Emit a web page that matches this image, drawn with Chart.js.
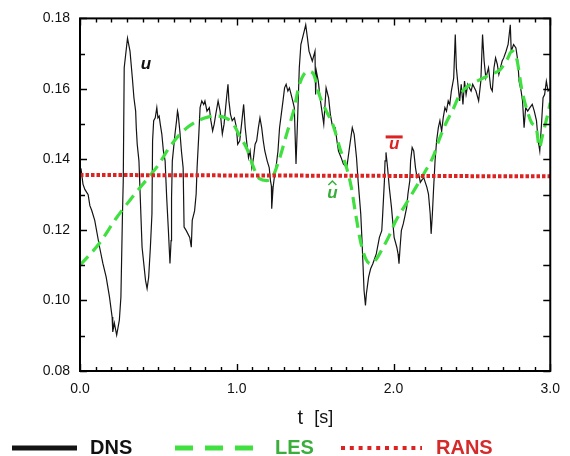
<!DOCTYPE html>
<html>
<head>
<meta charset="utf-8">
<script src="https://cdn.jsdelivr.net/npm/chart.js@4.4.0/dist/chart.umd.min.js"></script>
<style>
  html, body { margin: 0; padding: 0; background: #fff; }
  #wrap { width: 570px; height: 456px; position: relative; }
</style>
</head>
<body>
<div id="wrap"><canvas id="c" width="570" height="456"></canvas></div>
<script>
// ---- data ----
const dnsT = [
  0, 0.006, 0.019, 0.031, 0.052, 0.063, 0.075, 0.094, 0.125, 0.146,
  0.167, 0.188, 0.205, 0.209, 0.219, 0.234, 0.251, 0.261, 0.271, 0.276,
  0.282, 0.303, 0.319, 0.334, 0.344, 0.355, 0.359, 0.365, 0.376, 0.396,
  0.418, 0.428, 0.438, 0.449, 0.459, 0.463, 0.470, 0.480, 0.490, 0.497,
  0.505, 0.512, 0.522, 0.532, 0.543, 0.553, 0.564, 0.574, 0.581, 0.584,
  0.589, 0.606, 0.616, 0.622, 0.626, 0.637, 0.647, 0.658, 0.664, 0.678,
  0.700, 0.710, 0.716, 0.731, 0.741, 0.747, 0.758, 0.766, 0.777, 0.789,
  0.797, 0.810, 0.825, 0.835, 0.846, 0.856, 0.866, 0.881, 0.894, 0.908,
  0.919, 0.935, 0.944, 0.950, 0.960, 0.971, 0.985, 0.998, 1.006, 1.019,
  1.033, 1.044, 1.054, 1.065, 1.075, 1.085, 1.096, 1.107, 1.117, 1.127,
  1.138, 1.148, 1.159, 1.169, 1.179, 1.194, 1.207, 1.215, 1.221, 1.223,
  1.232, 1.242, 1.253, 1.263, 1.273, 1.284, 1.295, 1.305, 1.315, 1.326,
  1.336, 1.347, 1.357, 1.367, 1.378, 1.387, 1.399, 1.409, 1.430, 1.440,
  1.451, 1.461, 1.482, 1.499, 1.503, 1.508, 1.520, 1.534, 1.555, 1.570,
  1.586, 1.597, 1.608, 1.628, 1.639, 1.649, 1.666, 1.680, 1.702, 1.722,
  1.737, 1.749, 1.764, 1.774, 1.791, 1.799, 1.806, 1.812, 1.821, 1.827,
  1.841, 1.854, 1.868, 1.890, 1.910, 1.925, 1.931, 1.942, 1.946, 1.952,
  1.962, 1.973, 1.987, 2.004, 2.021, 2.029, 2.035, 2.042, 2.050, 2.062,
  2.071, 2.084, 2.092, 2.104, 2.109, 2.119, 2.129, 2.140, 2.150, 2.161,
  2.171, 2.192, 2.213, 2.223, 2.234, 2.240, 2.248, 2.255, 2.265, 2.275,
  2.286, 2.296, 2.307, 2.317, 2.328, 2.338, 2.349, 2.359, 2.369, 2.384,
  2.394, 2.401, 2.411, 2.422, 2.432, 2.443, 2.453, 2.463, 2.474, 2.484,
  2.495, 2.505, 2.526, 2.543, 2.557, 2.568, 2.578, 2.589, 2.606, 2.620,
  2.630, 2.641, 2.651, 2.662, 2.672, 2.682, 2.693, 2.703, 2.718, 2.731,
  2.745, 2.751, 2.766, 2.781, 2.793, 2.801, 2.814, 2.823, 2.833, 2.843,
  2.856, 2.870, 2.885, 2.898, 2.912, 2.923, 2.933, 2.944, 2.954, 2.964,
  2.975, 2.986, 3.000
];
const dnsU = [
  0.1362, 0.1375, 0.1330, 0.1315, 0.1300, 0.1269, 0.1255, 0.1227, 0.1151, 0.1105,
  0.1066, 0.1010, 0.0953, 0.0911, 0.0936, 0.0902, 0.0944, 0.1010, 0.1246, 0.1340,
  0.1660, 0.1744, 0.1707, 0.1631, 0.1575, 0.1537, 0.1490, 0.1443, 0.1396, 0.1151,
  0.1057, 0.1034, 0.1066, 0.1151, 0.1246, 0.1453, 0.1510, 0.1518, 0.1547, 0.1518,
  0.1523, 0.1500, 0.1472, 0.1424, 0.1396, 0.1292, 0.1198, 0.1105, 0.1170, 0.1292,
  0.1396, 0.1472, 0.1510, 0.1537, 0.1529, 0.1480, 0.1424, 0.1376, 0.1208, 0.1198,
  0.1179, 0.1151, 0.1227, 0.1254, 0.1302, 0.1377, 0.1471, 0.1547, 0.1566, 0.1556,
  0.1566, 0.1537, 0.1547, 0.1510, 0.1481, 0.1500, 0.1528, 0.1566, 0.1537, 0.1472,
  0.1500, 0.1575, 0.1613, 0.1566, 0.1528, 0.1510, 0.1518, 0.1490, 0.1443, 0.1453,
  0.1510, 0.1556, 0.1490, 0.1443, 0.1405, 0.1424, 0.1377, 0.1405, 0.1443, 0.1453,
  0.1490, 0.1518, 0.1490, 0.1453, 0.1424, 0.1396, 0.1377, 0.1340, 0.1325, 0.1260,
  0.1321, 0.1358, 0.1387, 0.1424, 0.1490, 0.1528, 0.1566, 0.1603, 0.1613, 0.1594,
  0.1603, 0.1584, 0.1566, 0.1547, 0.1387, 0.1500, 0.1660, 0.1726, 0.1763, 0.1782,
  0.1744, 0.1707, 0.1679, 0.1707, 0.1584, 0.1650, 0.1622, 0.1566, 0.1500, 0.1603,
  0.1575, 0.1528, 0.1500, 0.1490, 0.1453, 0.1424, 0.1405, 0.1387, 0.1377, 0.1443,
  0.1490, 0.1471, 0.1405, 0.1340, 0.1246, 0.1170, 0.1095, 0.1029, 0.0986, 0.1019,
  0.1066, 0.1090, 0.1104, 0.1132, 0.1179, 0.1198, 0.1245, 0.1340, 0.1396, 0.1420,
  0.1377, 0.1321, 0.1264, 0.1179, 0.1151, 0.1132, 0.1104, 0.1151, 0.1198, 0.1217,
  0.1236, 0.1264, 0.1302, 0.1340, 0.1396, 0.1434, 0.1424, 0.1377, 0.1349, 0.1358,
  0.1335, 0.1349, 0.1321, 0.1302, 0.1246, 0.1189, 0.1246, 0.1311, 0.1396, 0.1453,
  0.1490, 0.1510, 0.1480, 0.1518, 0.1547, 0.1537, 0.1566, 0.1556, 0.1594, 0.1631,
  0.1754, 0.1660, 0.1613, 0.1566, 0.1613, 0.1556, 0.1622, 0.1584, 0.1613, 0.1603,
  0.1594, 0.1613, 0.1594, 0.1566, 0.1622, 0.1754, 0.1679, 0.1631, 0.1660, 0.1603,
  0.1594, 0.1660, 0.1688, 0.1670, 0.1641, 0.1660, 0.1679, 0.1688, 0.1707, 0.1726,
  0.1782, 0.1707, 0.1726, 0.1716, 0.1679, 0.1622, 0.1594, 0.1566, 0.1490, 0.1547,
  0.1537, 0.1547, 0.1556, 0.1537, 0.1510, 0.1453, 0.1424, 0.1500, 0.1575, 0.1584,
  0.1622, 0.1594, 0.1600
];
const lesT = [
  0, 0.125, 0.232, 0.332, 0.420, 0.501, 0.564, 0.645, 0.733, 0.814,
  0.877, 0.927, 0.971, 1.021, 1.065, 1.109, 1.146, 1.190, 1.228, 1.271,
  1.321, 1.365, 1.397, 1.428, 1.459, 1.491, 1.522, 1.566, 1.616, 1.660,
  1.697, 1.729, 1.760, 1.791, 1.823, 1.854, 1.885, 1.929, 1.973, 2.010,
  2.073, 2.136, 2.198, 2.255, 2.292, 2.336, 2.380, 2.418, 2.461, 2.511,
  2.555, 2.618, 2.681, 2.724, 2.756, 2.787, 2.818, 2.850, 2.881, 2.912,
  2.931, 2.950, 2.981, 3.000
];
const lesU = [
  0.1100, 0.1163, 0.1234, 0.1292, 0.1340, 0.1385, 0.1430, 0.1475, 0.1505, 0.1520,
  0.1523, 0.1518, 0.1505, 0.1465, 0.1430, 0.1375, 0.1345, 0.1340, 0.1350, 0.1400,
  0.1476, 0.1542, 0.1608, 0.1641, 0.1650, 0.1641, 0.1589, 0.1542, 0.1495, 0.1429,
  0.1382, 0.1325, 0.1241, 0.1165, 0.1118, 0.1104, 0.1114, 0.1147, 0.1184, 0.1222,
  0.1269, 0.1316, 0.1363, 0.1410, 0.1457, 0.1504, 0.1542, 0.1580, 0.1603, 0.1617,
  0.1627, 0.1641, 0.1655, 0.1683, 0.1707, 0.1683, 0.1599, 0.1542, 0.1504, 0.1486,
  0.1434, 0.1467, 0.1523, 0.1561
];
const ransT = [0, 3.0];
const ransU = [0.1356, 0.1352];

const seriesNames = ['DNS', 'LES', 'RANS'];
const xTickLabels = ['0.0', '1.0', '2.0', '3.0'];
const yTickLabels = ['0.08', '0.10', '0.12', '0.14', '0.16', '0.18'];
const axisTitle = ['t', '[s]'];
// annotation labels: text, t, value
const annText = ['u', 'u', 'u'];
const annT = [0.42, 2.004, 1.61];
const annU = [0.167, 0.1444, 0.1305];

// ---- styles ----
const FONT = "'Liberation Sans', Arial, Helvetica, sans-serif";
const C_DNS = '#141414', C_LES = '#3fe03f', C_RANS = '#dd2222';
const C_LES_TXT = '#3aae3a', C_RANS_TXT = '#d42a2a';

const pts = (ts, us) => ts.map((t, i) => ({ x: t, y: us[i] }));

const decor = {
  id: 'decor',
  afterDatasetsDraw(chart) {
    const { ctx, chartArea: a, scales: { x: xs, y: ys } } = chart;
    ctx.save();
    ctx.strokeStyle = '#000';
    ctx.lineWidth = 2;
    ctx.strokeRect(a.left, a.top, a.right - a.left, a.bottom - a.top);
    ctx.lineWidth = 1.4;
    ctx.beginPath();
    for (let i = 0; i <= 30; i++) {
      const px = Math.round(xs.getPixelForValue(i / 10)) + 0.5;
      const len = (i % 10 === 0) ? 7 : 4;
      ctx.moveTo(px, a.bottom); ctx.lineTo(px, a.bottom - len);
      ctx.moveTo(px, a.top); ctx.lineTo(px, a.top + len);
    }
    for (let j = 0; j <= 10; j++) {
      const py = Math.round(ys.getPixelForValue(0.08 + j * 0.01)) + 0.5;
      const len = (j % 2 === 0) ? 7 : 5;
      ctx.moveTo(a.left, py); ctx.lineTo(a.left + len, py);
      ctx.moveTo(a.right, py); ctx.lineTo(a.right - 7, py);
    }
    ctx.stroke();

    // annotations
    ctx.textAlign = 'center';
    ctx.textBaseline = 'middle';
    ctx.font = 'italic bold 17px ' + FONT;
    let px = xs.getPixelForValue(annT[0]), py = ys.getPixelForValue(annU[0]);
    ctx.fillStyle = '#111';
    ctx.fillText(annText[0], px, py);
    px = xs.getPixelForValue(annT[1]); py = ys.getPixelForValue(annU[1]);
    ctx.fillStyle = C_RANS;
    ctx.fillText(annText[1], px, py);
    ctx.fillRect(px - 8.5, py - 8.5, 17, 3);
    px = xs.getPixelForValue(annT[2]); py = ys.getPixelForValue(annU[2]);
    ctx.fillStyle = C_LES_TXT;
    ctx.fillText(annText[2], px, py);
    ctx.strokeStyle = C_LES_TXT;
    ctx.lineWidth = 1.5;
    ctx.beginPath();
    ctx.moveTo(px - 4, py - 8); ctx.lineTo(px, py - 12); ctx.lineTo(px + 4, py - 8);
    ctx.stroke();
    ctx.restore();
  },
  afterDraw(chart) {
    const { ctx, chartArea: a } = chart;
    ctx.save();
    ctx.textBaseline = 'middle';
    ctx.fillStyle = '#111';
    const cx = (a.left + a.right) / 2;
    ctx.font = '20px ' + FONT;
    ctx.textAlign = 'right';
    ctx.fillText(axisTitle[0], cx - 12, 418);
    ctx.font = '18px ' + FONT;
    ctx.textAlign = 'left';
    ctx.fillText(axisTitle[1], cx - 1, 418);

    const ly = 448;
    ctx.lineWidth = 5;
    ctx.strokeStyle = C_DNS;
    ctx.setLineDash([]);
    ctx.beginPath(); ctx.moveTo(12, ly); ctx.lineTo(77, ly); ctx.stroke();
    ctx.strokeStyle = C_LES;
    ctx.setLineDash([18, 12]);
    ctx.beginPath(); ctx.moveTo(175, ly); ctx.lineTo(254, ly); ctx.stroke();
    ctx.strokeStyle = C_RANS;
    ctx.lineWidth = 4;
    ctx.setLineDash([4, 4.8]);
    ctx.beginPath(); ctx.moveTo(341, ly); ctx.lineTo(422, ly); ctx.stroke();
    ctx.setLineDash([]);
    ctx.font = 'bold 20px ' + FONT;
    ctx.textAlign = 'left';
    ctx.fillStyle = '#111'; ctx.fillText(seriesNames[0], 90, ly);
    ctx.fillStyle = C_LES_TXT; ctx.fillText(seriesNames[1], 275, ly);
    ctx.fillStyle = C_RANS_TXT; ctx.fillText(seriesNames[2], 436, ly);
    ctx.restore();
  }
};

new Chart(document.getElementById('c'), {
  type: 'line',
  data: {
    datasets: [
      { label: seriesNames[2], data: pts(ransT, ransU), borderColor: C_RANS, borderWidth: 4,
        borderDash: [3.5, 2], borderCapStyle: 'butt', pointRadius: 0, tension: 0, order: 1 },
      { label: seriesNames[1], data: pts(lesT, lesU), borderColor: C_LES, borderWidth: 3.2,
        borderDash: [12, 7], pointRadius: 0, tension: 0.4, cubicInterpolationMode: 'monotone', order: 2 },
      { label: seriesNames[0], data: pts(dnsT, dnsU), borderColor: C_DNS, borderWidth: 1.2,
        pointRadius: 0, tension: 0, order: 3 }
    ]
  },
  options: {
    responsive: false,
    animation: false,
    events: [],
    layout: { padding: { left: 0, right: 11, top: 17, bottom: 0 } },
    plugins: { legend: { display: false }, tooltip: { enabled: false } },
    scales: {
      x: {
        type: 'linear', min: 0, max: 3,
        grid: { display: false, drawTicks: false },
        border: { display: false },
        afterFit(s) { s.height = 85; },
        afterBuildTicks(s) { s.ticks = xTickLabels.map(v => ({ value: parseFloat(v) })); },
        ticks: {
          padding: 10, color: '#111', font: { family: FONT, size: 14 },
          maxRotation: 0, autoSkip: false,
          callback: (v) => xTickLabels.find(l => parseFloat(l) === v) ?? ''
        }
      },
      y: {
        type: 'linear', min: 0.08, max: 0.18,
        grid: { display: false, drawTicks: false },
        border: { display: false },
        afterFit(s) { s.width = 80; },
        afterBuildTicks(s) { s.ticks = yTickLabels.map(v => ({ value: parseFloat(v) })); },
        ticks: {
          padding: 10, color: '#111', font: { family: FONT, size: 14 },
          autoSkip: false,
          callback: (v) => yTickLabels.find(l => Math.abs(parseFloat(l) - v) < 1e-9) ?? ''
        }
      }
    }
  },
  plugins: [decor]
});
</script>
</body>
</html>
